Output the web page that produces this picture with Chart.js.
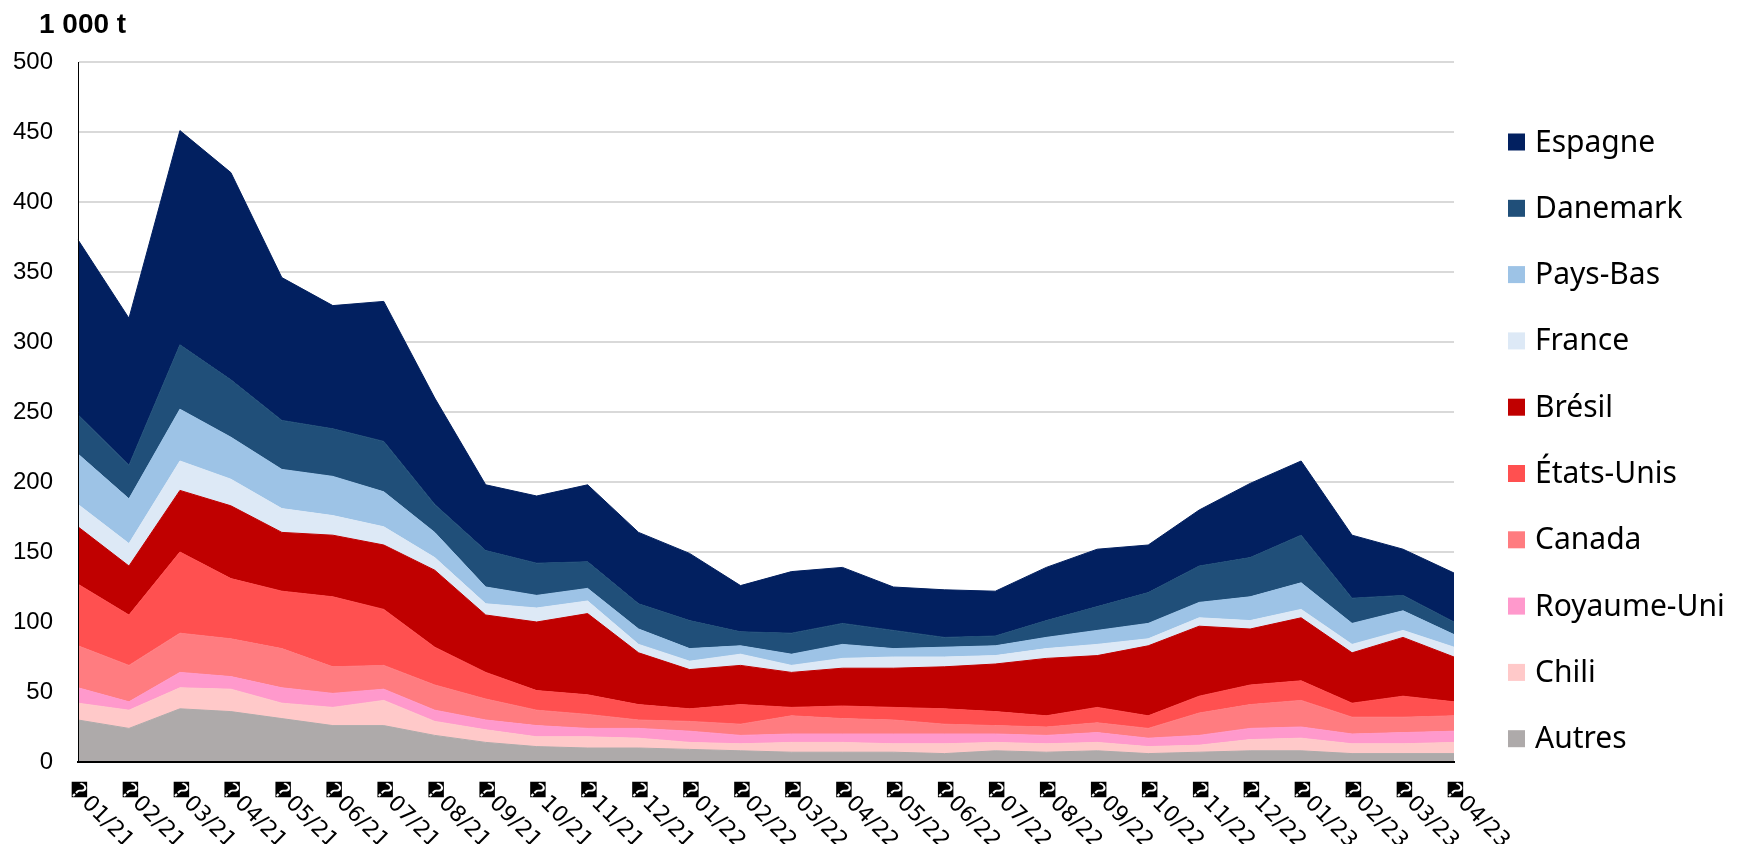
<!DOCTYPE html>
<html>
<head>
<meta charset="utf-8">
<script src="https://cdn.jsdelivr.net/npm/chart.js@4"></script>
<style>
  html, body { margin: 0; padding: 0; background: #fff; }
  #wrap { width: 1743px; height: 844px; position: relative; }
</style>
</head>
<body>
<div id="wrap"><canvas id="importChart"></canvas></div>
<script>
// periods, as printed in the source (first glyph is a replacement char)
const periods = [
  '\uFFFD01/21', '\uFFFD02/21', '\uFFFD03/21', '\uFFFD04/21', '\uFFFD05/21', '\uFFFD06/21', '\uFFFD07/21',
  '\uFFFD08/21', '\uFFFD09/21', '\uFFFD10/21', '\uFFFD11/21', '\uFFFD12/21', '\uFFFD01/22', '\uFFFD02/22',
  '\uFFFD03/22', '\uFFFD04/22', '\uFFFD05/22', '\uFFFD06/22', '\uFFFD07/22', '\uFFFD08/22', '\uFFFD09/22',
  '\uFFFD10/22', '\uFFFD11/22', '\uFFFD12/22', '\uFFFD01/23', '\uFFFD02/23', '\uFFFD03/23', '\uFFFD04/23'
];
const unitLabel = '1 000 t';
const yTicks = [0, 50, 100, 150, 200, 250, 300, 350, 400, 450, 500];

// 1 000 t per country
const autres     = [30, 24, 38, 36, 31, 26, 26, 19, 14, 11, 10, 10, 9, 8, 7, 7, 7, 6, 8, 7, 8, 6, 7, 8, 8, 6, 6, 6];
const chili      = [12, 13, 15, 16, 11, 13, 18, 10, 9, 7, 8, 7, 5, 5, 7, 7, 6, 7, 6, 6, 6, 5, 5, 8, 9, 7, 7, 8];
const royaumeUni = [11, 6, 11, 9, 11, 10, 8, 8, 7, 8, 6, 7, 8, 6, 6, 6, 7, 7, 6, 6, 7, 6, 7, 8, 8, 7, 8, 8];
const canada     = [30, 26, 28, 27, 28, 19, 17, 18, 15, 11, 10, 6, 7, 8, 13, 11, 10, 7, 6, 6, 7, 7, 16, 17, 19, 12, 11, 11];
const etatsUnis  = [44, 36, 58, 43, 41, 50, 40, 27, 19, 14, 14, 11, 9, 14, 6, 9, 9, 11, 10, 8, 11, 9, 12, 14, 14, 10, 15, 10];
const bresil     = [41, 35, 44, 52, 42, 44, 46, 55, 41, 49, 58, 37, 28, 28, 25, 27, 28, 30, 34, 41, 37, 50, 50, 40, 45, 36, 42, 32];
const france     = [16, 16, 21, 19, 17, 14, 13, 9, 8, 10, 9, 6, 6, 8, 5, 7, 8, 7, 6, 7, 8, 5, 6, 6, 6, 6, 5, 7];
const paysBas    = [36, 32, 37, 30, 28, 28, 25, 18, 12, 9, 9, 11, 9, 6, 8, 10, 6, 7, 7, 8, 10, 11, 11, 17, 19, 15, 14, 9];
const danemark   = [28, 24, 46, 41, 35, 34, 36, 20, 26, 23, 19, 18, 20, 10, 15, 15, 13, 7, 7, 12, 17, 22, 26, 28, 34, 18, 11, 9];
const espagne    = [125, 105, 153, 148, 102, 88, 100, 76, 47, 48, 55, 51, 48, 33, 44, 40, 31, 34, 32, 38, 41, 34, 40, 53, 53, 45, 33, 35];

// bottom of the stack first
const series = [
  { label: 'Autres',      data: autres,     color: '#aeaaaa' },
  { label: 'Chili',       data: chili,      color: '#ffc9c9' },
  { label: 'Royaume-Uni', data: royaumeUni, color: '#ff99cc' },
  { label: 'Canada',      data: canada,     color: '#ff7c80' },
  { label: 'États-Unis',  data: etatsUnis,  color: '#ff5050' },
  { label: 'Brésil',      data: bresil,     color: '#c00000' },
  { label: 'France',      data: france,     color: '#dde9f6' },
  { label: 'Pays-Bas',    data: paysBas,    color: '#9dc3e6' },
  { label: 'Danemark',    data: danemark,   color: '#204f79' },
  { label: 'Espagne',     data: espagne,    color: '#022060' }
];

const datasets = series.map((s, i) => ({
  label: s.label,
  data: s.data,
  backgroundColor: s.color,
  borderColor: s.color,
  borderWidth: 1,
  pointRadius: 0,
  tension: 0,
  fill: i === 0 ? 'origin' : '-1'
}));

// title, rotated period labels and the legend
const extraText = {
  id: 'extraText',
  afterDraw(chart) {
    const { ctx, chartArea, scales: { x } } = chart;
    ctx.save();
    ctx.fillStyle = '#000';

    ctx.font = 'bold 28px "Liberation Sans", Arial, sans-serif';
    ctx.textAlign = 'left';
    ctx.textBaseline = 'alphabetic';
    ctx.fillText(unitLabel, 39, 33);

    ctx.font = '22px "DejaVu Sans", sans-serif';
    ctx.textBaseline = 'middle';
    periods.forEach((p, i) => {
      ctx.save();
      ctx.translate(x.getPixelForValue(i) - 9, chartArea.bottom + 22);
      ctx.rotate(Math.PI / 4);
      ctx.fillText(p, 0, 0);
      ctx.restore();
    });

    ctx.font = '30px "Noto Sans", sans-serif';
    const items = chart.data.datasets.slice().reverse();
    items.forEach((ds, k) => {
      const cy = 142 + k * 66.3;
      const bx = chartArea.right + 54;
      ctx.fillStyle = ds.backgroundColor;
      ctx.fillRect(bx, cy - 8.5, 17, 17);
      ctx.fillStyle = '#000';
      ctx.fillText(ds.label, bx + 27, cy + 1);
    });
    ctx.restore();
  }
};

new Chart(document.getElementById('importChart'), {
  type: 'line',
  data: { labels: periods, datasets },
  plugins: [extraText],
  options: {
    responsive: true,
    maintainAspectRatio: false,
    animation: false,
    layout: { padding: { top: 62, right: 289, bottom: 0, left: 0 } },
    plugins: {
      legend: { display: false },
      tooltip: { enabled: false }
    },
    scales: {
      x: {
        offset: false,
        ticks: { display: false },
        grid: { display: false },
        border: { display: true, color: '#000', width: 2, z: 1 },
        afterFit: s => { s.height = 82; }
      },
      y: {
        stacked: true,
        min: 0,
        max: 500,
        afterBuildTicks: s => { s.ticks = yTicks.map(v => ({ value: v })); },
        ticks: {
          padding: 25,
          color: '#000',
          font: { family: '"Liberation Sans", Arial, sans-serif', size: 24 }
        },
        grid: { color: '#d9d9d9', lineWidth: 2, drawTicks: false },
        border: { display: true, color: '#000', width: 1, z: 1 },
        afterFit: s => { s.width = 78; }
      }
    }
  }
});
</script>
</body>
</html>
